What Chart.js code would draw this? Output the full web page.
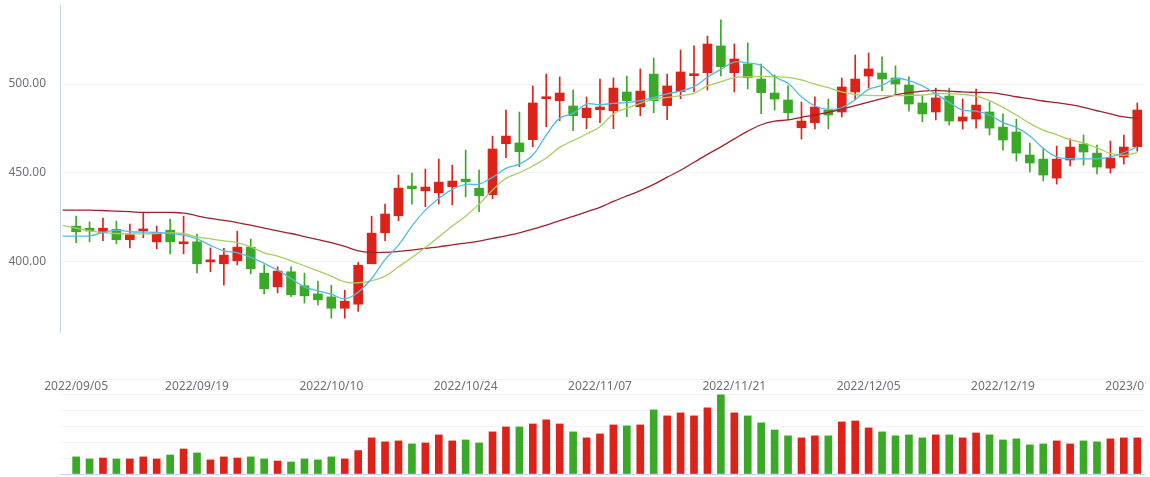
<!DOCTYPE html>
<html>
<head>
<meta charset="utf-8">
<script src="https://cdn.jsdelivr.net/npm/chart.js@4.4.0/dist/chart.umd.min.js"></script>
<style>
    body { margin: 0; background: #fff; }
    #kWrap { position: absolute; left: 0; top: 0; width: 1150px; height: 340px; }
    #volClip { position: absolute; left: 0; top: 340px; width: 1146px; height: 137px; overflow: hidden; }
    #volWrap { position: relative; width: 1200px; height: 137px; }
</style>
</head>
<body>
<div id="kWrap"><canvas id="kChart"></canvas></div>
<div id="volClip"><div id="volWrap"><canvas id="volChart"></canvas></div></div>
<script>
// trading days, the first one only carries the moving averages
var dates = ['2022/09/02',
    '2022/09/05', '2022/09/06', '2022/09/07', '2022/09/08', '2022/09/09', '2022/09/13', '2022/09/14', '2022/09/15', '2022/09/16',
    '2022/09/19', '2022/09/20', '2022/09/21', '2022/09/22', '2022/09/23', '2022/09/26', '2022/09/27', '2022/09/28', '2022/09/29', '2022/09/30',
    '2022/10/10', '2022/10/11', '2022/10/12', '2022/10/13', '2022/10/14', '2022/10/17', '2022/10/18', '2022/10/19', '2022/10/20', '2022/10/21',
    '2022/10/24', '2022/10/25', '2022/10/26', '2022/10/27', '2022/10/28', '2022/10/31', '2022/11/01', '2022/11/02', '2022/11/03', '2022/11/04',
    '2022/11/07', '2022/11/08', '2022/11/09', '2022/11/10', '2022/11/11', '2022/11/14', '2022/11/15', '2022/11/16', '2022/11/17', '2022/11/18',
    '2022/11/21', '2022/11/22', '2022/11/23', '2022/11/24', '2022/11/25', '2022/11/28', '2022/11/29', '2022/11/30', '2022/12/01', '2022/12/02',
    '2022/12/05', '2022/12/06', '2022/12/07', '2022/12/08', '2022/12/09', '2022/12/12', '2022/12/13', '2022/12/14', '2022/12/15', '2022/12/16',
    '2022/12/19', '2022/12/20', '2022/12/21', '2022/12/22', '2022/12/23', '2022/12/26', '2022/12/27', '2022/12/28', '2022/12/29', '2022/12/30',
    '2023/01/03'];

var tickDates = ['2022/09/05', '2022/09/19', '2022/10/10', '2022/10/24', '2022/11/07', '2022/11/21', '2022/12/05', '2022/12/19', '2023/01/03'];
var priceTicks = [400, 450, 500];

var open = [null,
    419.8, 418.6, 416.0, 417.9, 412.1, 417.1, 410.9, 417.5, 409.8, 410.9,
    399.6, 398.5, 400.2, 407.9, 393.2, 385.5, 394.0, 386.1, 381.5, 379.8,
    373.4, 375.7, 398.5, 416.0, 425.6, 442.4, 439.7, 438.6, 442.0, 446.3,
    441.2, 437.5, 466.3, 466.7, 468.6, 491.7, 490.6, 487.6, 481.0, 485.5,
    484.9, 495.5, 487.2, 505.6, 487.8, 495.7, 504.7, 506.4, 521.5, 506.4,
    511.3, 502.8, 494.9, 491.0, 475.3, 478.2, 485.3, 484.2, 495.5, 504.5,
    506.2, 503.4, 499.4, 489.3, 484.2, 493.2, 479.1, 480.2, 484.2, 475.7,
    472.9, 459.9, 457.6, 446.9, 457.1, 466.1, 461.0, 452.5, 458.8, 464.6];
var close = [null,
    416.6, 417.0, 418.6, 412.1, 414.9, 417.9, 416.2, 410.9, 410.7, 398.5,
    400.6, 403.4, 407.9, 395.7, 384.4, 394.4, 381.0, 380.4, 378.2, 373.4,
    377.4, 397.7, 415.8, 426.6, 441.2, 440.9, 441.8, 444.6, 445.2, 444.8,
    436.9, 463.3, 470.6, 461.8, 489.3, 492.7, 494.9, 482.1, 486.4, 487.0,
    497.7, 490.6, 496.0, 490.6, 498.9, 506.8, 505.6, 522.6, 509.8, 514.1,
    503.6, 495.1, 491.5, 483.8, 479.1, 487.0, 482.5, 498.3, 502.8, 508.5,
    502.8, 500.0, 488.7, 483.1, 492.1, 479.1, 481.4, 488.1, 475.1, 468.4,
    461.0, 455.4, 448.6, 457.6, 464.4, 461.6, 453.1, 458.2, 464.4, 485.3];
var high = [null,
    425.4, 422.2, 424.3, 422.6, 420.9, 427.3, 419.8, 423.7, 425.4, 415.3,
    407.5, 407.2, 416.9, 412.4, 397.9, 396.8, 396.8, 393.2, 388.7, 386.4,
    383.6, 399.2, 425.4, 432.2, 448.6, 449.7, 452.0, 457.6, 454.2, 462.7,
    451.4, 470.6, 485.3, 484.2, 498.9, 505.6, 504.0, 496.6, 492.7, 502.8,
    503.4, 504.5, 508.5, 514.7, 505.6, 519.2, 521.5, 527.1, 536.2, 522.6,
    523.2, 511.3, 505.1, 498.9, 489.8, 492.7, 491.5, 503.4, 516.4, 517.5,
    515.3, 510.2, 504.0, 493.2, 497.7, 497.7, 491.5, 497.2, 489.8, 483.1,
    480.2, 466.7, 463.1, 465.0, 469.0, 471.2, 465.5, 467.8, 471.2, 489.3];
var low = [null,
    410.4, 410.9, 411.5, 409.8, 407.5, 413.2, 407.0, 404.1, 404.1, 393.4,
    394.0, 386.4, 397.9, 392.8, 381.5, 382.1, 379.9, 376.3, 375.3, 367.8,
    367.8, 371.6, 400.8, 411.5, 422.8, 432.2, 430.7, 432.2, 431.8, 436.3,
    427.9, 435.2, 458.4, 453.3, 464.6, 475.9, 479.3, 473.6, 474.8, 478.2,
    474.8, 481.5, 482.1, 483.8, 479.8, 491.7, 495.7, 496.6, 504.5, 495.5,
    497.2, 483.2, 485.3, 479.7, 468.9, 474.6, 474.6, 481.4, 491.0, 497.7,
    496.2, 494.4, 484.7, 478.7, 479.7, 476.8, 474.6, 475.1, 471.2, 462.7,
    456.5, 450.3, 445.2, 443.5, 453.7, 454.2, 449.2, 449.7, 454.8, 462.1];

// volume, in units of one grid step
var volume = [null,
    1.08, 0.95, 1.01, 0.95, 0.95, 1.08, 0.95, 1.20, 1.58, 1.33,
    0.89, 1.08, 1.01, 1.08, 0.95, 0.82, 0.76, 0.95, 0.89, 1.08,
    0.95, 1.48, 2.28, 2.03, 2.09, 1.90, 1.96, 2.47, 2.09, 2.15,
    1.96, 2.66, 2.97, 2.97, 3.16, 3.42, 3.16, 2.66, 2.28, 2.53,
    3.10, 3.04, 3.10, 4.05, 3.67, 3.86, 3.67, 4.18, 5.00, 3.86,
    3.67, 3.23, 2.78, 2.41, 2.28, 2.41, 2.41, 3.29, 3.35, 2.91,
    2.66, 2.41, 2.47, 2.28, 2.47, 2.47, 2.28, 2.59, 2.47, 2.15,
    2.22, 1.84, 1.90, 2.09, 1.90, 2.09, 2.03, 2.22, 2.28, 2.28];

var ma5 = [414.1,
    414.1, 414.3, 416.2, 417.5, 416.6, 416.4, 416.2, 415.6, 414.7, 412.6,
    408.9, 405.8, 404.7, 402.1, 398.7, 394.9, 390.2, 385.5, 383.2, 381.4,
    378.7, 382.5, 390.2, 400.9, 409.0, 419.8, 428.8, 435.4, 440.5, 443.3,
    443.5, 447.3, 452.4, 454.8, 459.9, 471.2, 480.6, 483.4, 488.7, 488.3,
    489.1, 489.5, 490.6, 492.5, 494.4, 496.0, 498.5, 503.8, 508.3, 512.4,
    511.9, 510.4, 504.1, 500.4, 492.8, 487.6, 485.7, 486.6, 491.3, 497.0,
    499.2, 503.0, 501.9, 498.9, 494.4, 489.6, 485.3, 484.7, 482.5, 478.2,
    475.5, 470.6, 463.7, 458.9, 457.8, 457.8, 457.8, 458.9, 461.2, 464.6];
var ma10 = [420.2,
    418.6, 417.1, 416.2, 415.6, 415.4, 415.4, 415.6, 416.0, 415.6, 413.7,
    412.6, 411.5, 410.5, 408.1, 404.7, 402.8, 400.2, 397.4, 394.5, 391.5,
    388.3, 387.8, 388.9, 391.5, 396.8, 402.1, 407.7, 413.7, 419.8, 425.4,
    432.2, 440.1, 446.7, 449.9, 453.7, 458.2, 464.2, 468.0, 471.8, 475.9,
    483.1, 486.4, 489.1, 491.3, 492.5, 493.4, 494.7, 498.9, 501.3, 503.6,
    504.1, 504.3, 504.1, 503.8, 502.3, 500.0, 497.9, 495.5, 494.0, 493.6,
    493.4, 493.4, 493.6, 493.8, 494.5, 494.5, 494.2, 493.2, 490.6, 486.8,
    482.5, 477.8, 474.0, 471.4, 468.6, 466.7, 464.0, 460.8, 459.7, 461.2];
var ma30 = [428.8,
    428.8, 428.8, 428.6, 428.2, 427.9, 427.5, 427.5, 427.5, 427.1, 425.6,
    424.1, 423.0, 421.8, 420.3, 418.6, 417.1, 415.6, 413.9, 412.2, 410.4,
    408.3, 405.8, 404.9, 405.0, 405.5, 406.2, 407.2, 408.1, 409.2, 410.2,
    411.3, 412.8, 414.3, 416.0, 418.1, 420.3, 422.9, 425.3, 427.8, 430.4,
    433.7, 436.8, 439.8, 443.3, 447.4, 451.3, 455.8, 460.3, 464.5, 469.0,
    473.4, 477.0, 479.0, 479.7, 481.2, 482.5, 484.0, 485.9, 487.8, 489.8,
    491.7, 493.8, 495.1, 496.0, 496.4, 496.0, 495.5, 495.3, 495.1, 494.2,
    492.8, 491.7, 490.4, 489.5, 488.3, 486.8, 484.9, 483.1, 481.5, 480.6];

var UP = '#dc2219';
var DOWN = '#3aa927';
var GRID = '#eff2f6';
var AXIS = '#c7d6ea';
var LABEL = '#6e7079';
var FONT = { family: 'Noto Sans', size: 12 };
var X_MIN = -0.2, X_MAX = 80.5;

var kBody = [], kWick = [], kColor = [], volData = [];
for (var i = 0; i < dates.length; i++) {
    if (open[i] == null) continue;
    kBody.push({ x: i, y: [open[i], close[i]] });
    kWick.push({ x: i, y: [low[i], high[i]] });
    kColor.push(close[i] >= open[i] ? UP : DOWN);
    volData.push({ x: i, y: volume[i] });
}

var maLine = function (arr) {
    return arr.map(function (v, i) { return { x: i, y: v }; });
};

var lineSet = function (label, arr, color) {
    return {
        type: 'line', label: label, data: maLine(arr),
        borderColor: color, borderWidth: 1.3, pointRadius: 0,
        tension: 0.4, order: 0
    };
};

new Chart(document.getElementById('kChart'), {
    type: 'bar',
    data: {
        datasets: [
            lineSet('MA5', ma5, '#52bbdf'),
            lineSet('MA10', ma10, '#a8ce60'),
            lineSet('MA30', ma30, '#a1202b'),
            { label: 'wick', data: kWick, backgroundColor: kColor, barThickness: 1, grouped: false, order: 2 },
            { label: 'body', data: kBody, backgroundColor: kColor, barThickness: 9, minBarLength: 2, grouped: false, order: 1 }
        ]
    },
    options: {
        responsive: true,
        maintainAspectRatio: false,
        animation: false,
        layout: { padding: { left: 0, right: 6, top: 5, bottom: 8 } },
        plugins: { legend: { display: false }, tooltip: { enabled: false } },
        scales: {
            x: { type: 'linear', min: X_MIN, max: X_MAX, offset: false, display: false },
            y: {
                min: 360, max: 544.6,
                afterBuildTicks: function (s) { s.ticks = priceTicks.map(function (v) { return { value: v }; }); },
                afterFit: function (s) {
                    s.width = 60;
                    // the labels sit well inside the range, no extra room needed
                    s.paddingTop = 0;
                    s.paddingBottom = 0;
                },
                grid: { color: GRID, drawTicks: false },
                border: { color: AXIS },
                ticks: { padding: 14, color: LABEL, font: FONT, callback: function (v) { return v.toFixed(2); } }
            }
        }
    }
});

new Chart(document.getElementById('volChart'), {
    type: 'bar',
    data: {
        datasets: [{ label: 'volume', data: volData, backgroundColor: kColor, barThickness: 7 }]
    },
    options: {
        responsive: true,
        maintainAspectRatio: false,
        animation: false,
        layout: { padding: { left: 60, right: 56, top: 39, bottom: 3 } },
        plugins: { legend: { display: false }, tooltip: { enabled: false } },
        scales: {
            x: {
                type: 'linear', min: X_MIN, max: X_MAX, offset: false,
                grid: { display: false, drawTicks: false },
                ticks: { display: false },
                border: { color: AXIS }
            },
            x2: {
                type: 'linear', position: 'top', min: X_MIN, max: X_MAX, offset: false,
                grid: { display: false, drawTicks: false },
                border: { display: false },
                afterBuildTicks: function (s) {
                    s.ticks = tickDates.map(function (d) { return { value: dates.indexOf(d) }; });
                },
                ticks: {
                    mirror: true, padding: 0, maxRotation: 0, autoSkip: false,
                    color: LABEL, font: FONT,
                    callback: function (v) { return dates[v]; }
                }
            },
            y: {
                min: 0, max: 6,
                afterFit: function (s) { s.width = 0; },
                ticks: { display: false, stepSize: 1 },
                grid: { color: GRID, drawTicks: false },
                border: { display: false }
            }
        }
    }
});
</script>
</body>
</html>
